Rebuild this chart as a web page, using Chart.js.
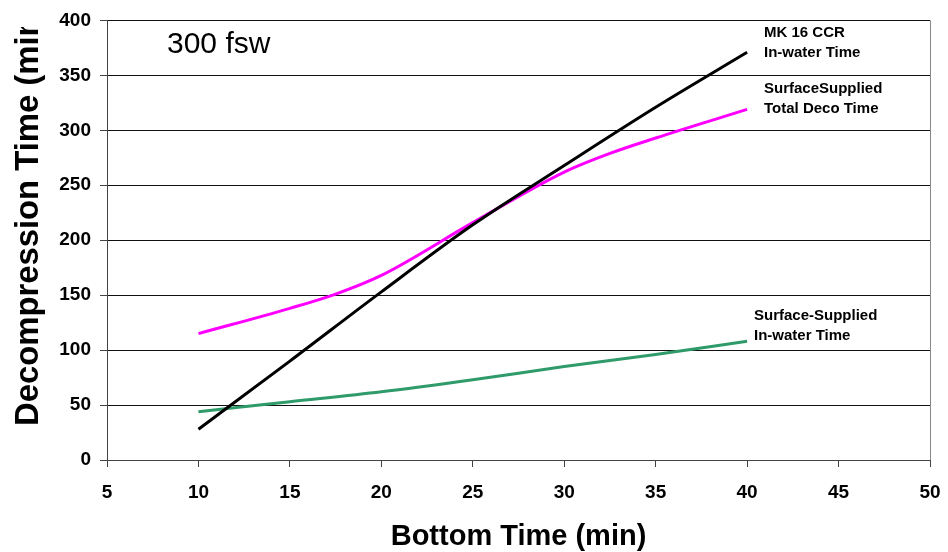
<!doctype html>
<html>
<head>
	<title>Decompression Time 300 fsw</title>
	<script src="https://cdn.jsdelivr.net/npm/chart.js@4/dist/chart.umd.min.js"></script>
	<style>
		body { margin: 0; background: #fff; }
		#container { width: 948px; height: 552px; }
	</style>
</head>
<body>
	<div id="container">
		<canvas id="canvas"></canvas>
	</div>
	<script>
		// bottom time (min) and decompression times (min)
		var ccrTimes = [10, 15, 20, 25, 30, 35, 40];
		var ccrInWater = [28, 90, 153, 214, 268, 321, 371];

		var ssTotalTimes = [10, 15, 17.5, 20, 25, 30, 32.5, 35, 40];
		var ssTotalDeco = [115, 138, 151, 168, 216, 262, 279, 293, 319];

		var ssWaterTimes = [10, 15, 20, 25, 30, 35, 40];
		var ssInWater = [44, 53, 62, 73, 85, 96, 108];

		var xTicks = [5, 10, 15, 20, 25, 30, 35, 40, 45, 50];
		var yTicks = [0, 50, 100, 150, 200, 250, 300, 350, 400];

		var seriesLabels = [
			['MK 16 CCR', 'In-water Time'],
			['SurfaceSupplied', 'Total Deco Time'],
			['Surface-Supplied', 'In-water Time']
		];

		function toPoints(xs, ys) {
			var pts = [];
			for (var i = 0; i < xs.length; i++) {
				pts.push({ x: xs[i], y: ys[i] });
			}
			return pts;
		}

		var FONT = "'Liberation Sans', Arial, sans-serif";

		// extra text: the depth note, the y title and the series labels
		var notes = {
			id: 'notes',
			beforeDraw: function (chart) {
				var ctx = chart.ctx;
				ctx.save();
				ctx.fillStyle = '#fff';
				ctx.fillRect(0, 0, chart.width, chart.height);
				ctx.restore();
			},
			afterDraw: function (chart) {
				var ctx = chart.ctx, a = chart.chartArea;
				ctx.save();
				// right border of the plot area
				ctx.strokeStyle = '#888';
				ctx.lineWidth = 1;
				ctx.beginPath();
				ctx.moveTo(Math.round(a.right) + 0.5, a.top);
				ctx.lineTo(Math.round(a.right) + 0.5, a.bottom);
				ctx.stroke();

				ctx.fillStyle = '#000';
				ctx.textBaseline = 'alphabetic';
				ctx.textAlign = 'left';

				ctx.font = '30px ' + FONT;
				ctx.fillText('300 fsw', 167, 53);

				ctx.font = 'bold 15px ' + FONT;
				ctx.fillText(seriesLabels[0][0], 764, 37);
				ctx.fillText(seriesLabels[0][1], 764, 57);
				ctx.fillText(seriesLabels[1][0], 764, 93);
				ctx.fillText(seriesLabels[1][1], 764, 113);
				ctx.fillText(seriesLabels[2][0], 754, 320);
				ctx.fillText(seriesLabels[2][1], 754, 340);

				// y title: the original box cuts it off in the middle of "(min"
				ctx.beginPath();
				ctx.rect(0, 27, 60, chart.height - 27);
				ctx.clip();
				ctx.translate(38, 426);
				ctx.rotate(-Math.PI / 2);
				ctx.scale(0.965, 1);
				ctx.font = 'bold 34px ' + FONT;
				ctx.fillText('Decompression Time (min)', 0, 0);
				ctx.restore();
			}
		};

		var ctx = document.getElementById('canvas').getContext('2d');
		window.myChart = new Chart(ctx, {
			type: 'scatter',
			data: {
				datasets: [{
					label: seriesLabels[0].join(' '),
					data: toPoints(ccrTimes, ccrInWater),
					borderColor: '#000000',
					backgroundColor: '#000000'
				}, {
					label: seriesLabels[1].join(' '),
					data: toPoints(ssTotalTimes, ssTotalDeco),
					borderColor: '#ff00ff',
					backgroundColor: '#ff00ff'
				}, {
					label: seriesLabels[2].join(' '),
					data: toPoints(ssWaterTimes, ssInWater),
					borderColor: '#2f9a6a',
					backgroundColor: '#2f9a6a'
				}]
			},
			options: {
				responsive: true,
				maintainAspectRatio: false,
				animation: false,
				showLine: true,
				layout: { padding: { top: 16, right: 18, left: 0, bottom: 0 } },
				elements: {
					point: { radius: 0, hoverRadius: 0 },
					line: { borderWidth: 3, cubicInterpolationMode: 'monotone', fill: false }
				},
				plugins: {
					legend: { display: false },
					tooltip: { enabled: false }
				},
				scales: {
					x: {
						type: 'linear',
						min: 5,
						max: 50,
						afterBuildTicks: function (scale) {
							scale.ticks = xTicks.map(function (v) { return { value: v }; });
						},
						afterFit: function (scale) {
							scale.height = 92;
							scale.paddingLeft = 0;
							scale.paddingRight = 0;
						},
						grid: { drawOnChartArea: false, drawTicks: true, tickLength: 7, color: '#444' },
						border: { color: '#444', width: 1 },
						ticks: {
							padding: 14,
							color: '#000',
							maxRotation: 0,
							font: { family: FONT, size: 19, weight: 'bold' }
						},
						title: {
							display: true,
							text: 'Bottom Time (min)',
							color: '#000',
							padding: { top: 0, bottom: 1 },
							font: { family: FONT, size: 29, weight: 'bold', lineHeight: 1 }
						}
					},
					y: {
						type: 'linear',
						min: 0,
						max: 400,
						afterBuildTicks: function (scale) {
							scale.ticks = yTicks.map(function (v) { return { value: v }; });
						},
						afterFit: function (scale) { scale.width = 107; },
						grid: { color: '#111', tickLength: 7, tickColor: '#444' },
						border: { color: '#444', width: 1 },
						ticks: {
							padding: 9,
							color: '#000',
							font: { family: FONT, size: 19, weight: 'bold' }
						}
					}
				}
			},
			plugins: [notes]
		});
	</script>
</body>
</html>
